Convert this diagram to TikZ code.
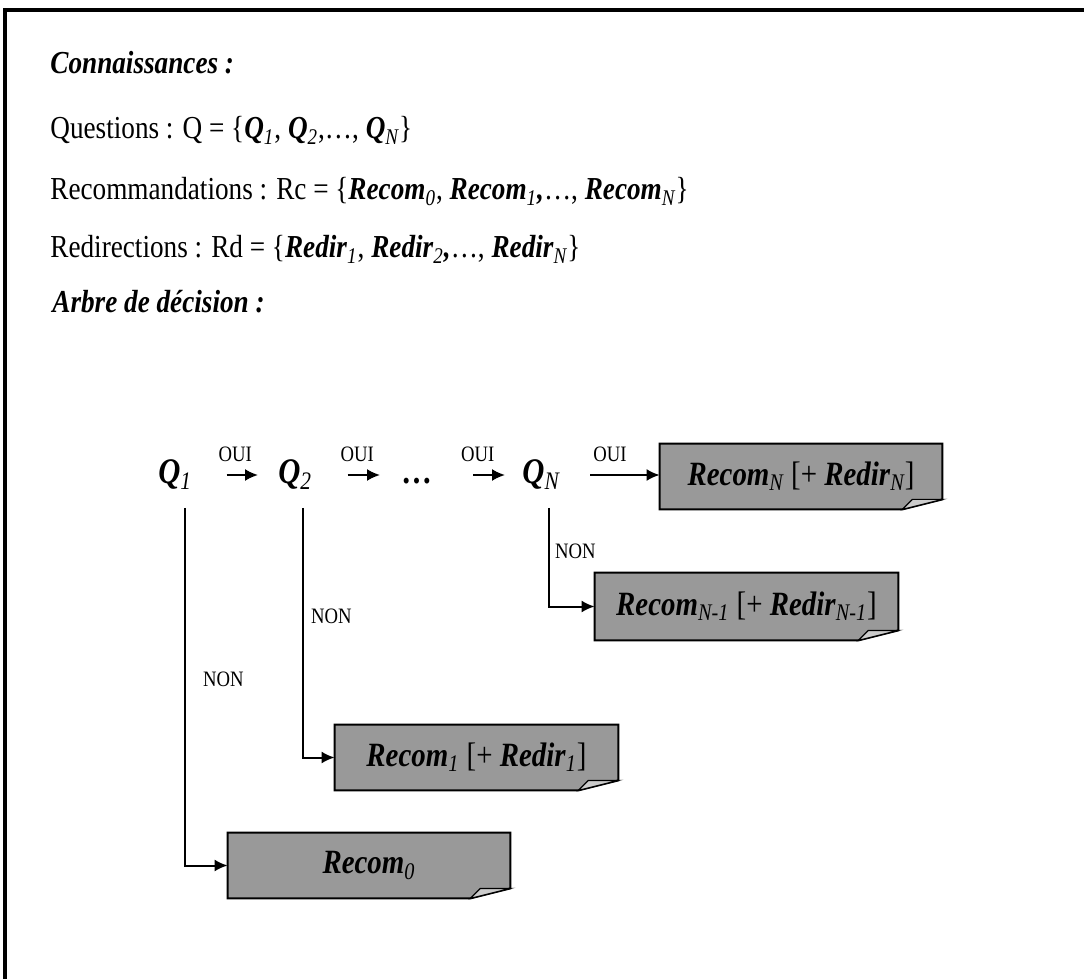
\documentclass[tikz,border=0pt]{standalone}
\usepackage{fontspec}
\setmainfont{Liberation Serif}[FakeStretch=0.85]
\usetikzlibrary{calc, backgrounds, arrows.meta}

\newcommand{\gi}[1]{\textbf{\textit{#1}}}
\newcommand{\ind}[1]{\textsubscript{\normalfont\itshape #1}}
% boite grise avec coin plie
\newcommand{\pli}[1]{%
	\begin{scope}[on background layer]
		\draw[line width=1pt, fill=black!40] (#1.north west) -- (#1.north east)
			-- ($(#1.south east)+(0,5pt)$) -- ($(#1.south east)+(-20pt,0)$)
			-- (#1.south west) -- cycle;
		\draw[line width=0.6pt, fill=black!20] ($(#1.south east)+(0,5pt)$)
			-- ($(#1.south east)+(-15pt,5pt)$) -- ($(#1.south east)+(-20pt,0)$) -- cycle;
	\end{scope}}

\tikzset{
	titre/.style={anchor=base west, inner sep=0pt, font=\fontsize{16}{19}\selectfont\bfseries\itshape},
	ligne/.style={anchor=base west, inner sep=0pt, font=\fontsize{16}{19}\selectfont},
	quest/.style={anchor=base west, inner sep=0pt, font=\fontsize{18}{21}\selectfont\bfseries\itshape},
	petit/.style={inner sep=0pt, font=\fontsize{11}{13}\selectfont},
	recbox/.style={minimum height=32.5pt, inner sep=0pt, font=\fontsize{17}{20}\selectfont},
	fleche/.style={-{Latex[length=6.5pt, width=6pt]}, line width=1pt},
}

\begin{document}
\begin{tikzpicture}[x=0.5pt, y=-0.5pt]
			\useasboundingbox (0, 0) rectangle (1084, 979);
			\clip (0, 0) rectangle (1084, 979);
			\draw[line width=2pt] (5, 10.5) rectangle (1100, 1000);

			\node[titre] (lconn) at (50, 74) {Connaissances :};
			\node[ligne] (lq) at (50, 139) {Questions : Q = \{\gi{Q}\ind{1}, \gi{Q}\ind{2},…, \gi{Q}\ind{N}\}};
			\node[ligne] (lrc) at (50, 200) {Recommandations : Rc = \{\gi{Recom}\ind{0}, \gi{Recom}\ind{1}\gi{,}…, \gi{Recom}\ind{N}\}};
			\node[ligne] (lrd) at (50, 258) {Redirections : Rd = \{\gi{Redir}\ind{1}, \gi{Redir}\ind{2}\gi{,}…, \gi{Redir}\ind{N}\}};
			\node[titre] (larbre) at (52, 313) {Arbre de décision :};

			\node[quest] (q1) at (158, 484) {Q\ind{1}};
			\node[quest] (q2) at (278, 484) {Q\ind{2}};
			\node[quest] (pts) at (402, 484) {…};
			\node[quest] (qn) at (522, 484) {Q\ind{N}};

			\node[recbox, minimum width=141pt] (rn) at (801, 476.5) {\gi{Recom}\ind{N} [+ \gi{Redir}\ind{N}]};
			\node[recbox, minimum width=151.5pt, minimum height=33.5pt] (rn1) at (746.5, 606.5) {\gi{Recom}\ind{N-1} [+ \gi{Redir}\ind{N-1}]};
			\node[recbox, minimum width=141.5pt] (r1) at (476.5, 757.5) {\gi{Recom}\ind{1} [+ \gi{Redir}\ind{1}]};
			\node[recbox, minimum width=141pt] (r0) at (369, 865.5) {\gi{Recom}\ind{0}};
			\pli{rn}
			\pli{rn1}
			\pli{r1}
			\pli{r0}

			\draw[fleche, shorten <=17pt, shorten >=10pt] (q1.east) -- node[petit, above=6pt] {OUI} (q1.east -| q2.west);
			\draw[fleche, shorten <=17.5pt, shorten >=11pt] (q2.east) -- node[petit, above=6pt] {OUI} (q2.east -| pts.west);
			\draw[fleche, shorten <=20pt, shorten >=8.5pt] (qn.west -| pts.east) -- node[petit, above=6pt] {OUI} (qn.west);
			\draw[fleche, shorten <=15pt] (qn.east) -- node[petit, above=6pt] {OUI} (qn.east -| rn.west);

			\coordinate (d1) at (185, 508);
			\coordinate (d2) at (303, 508);
			\coordinate (dn) at (549, 508);
			\draw[fleche] (d1) |- node[petit, pos=0.24, right=8.5pt] {NON} (r0.west);
			\draw[fleche] (d2) |- node[petit, pos=0.218, right=3.5pt] {NON} (r1.west);
			\draw[fleche] (dn) |- node[petit, pos=0.218, right=2.5pt] {NON} (rn1.west);
		\end{tikzpicture}
\end{document}
